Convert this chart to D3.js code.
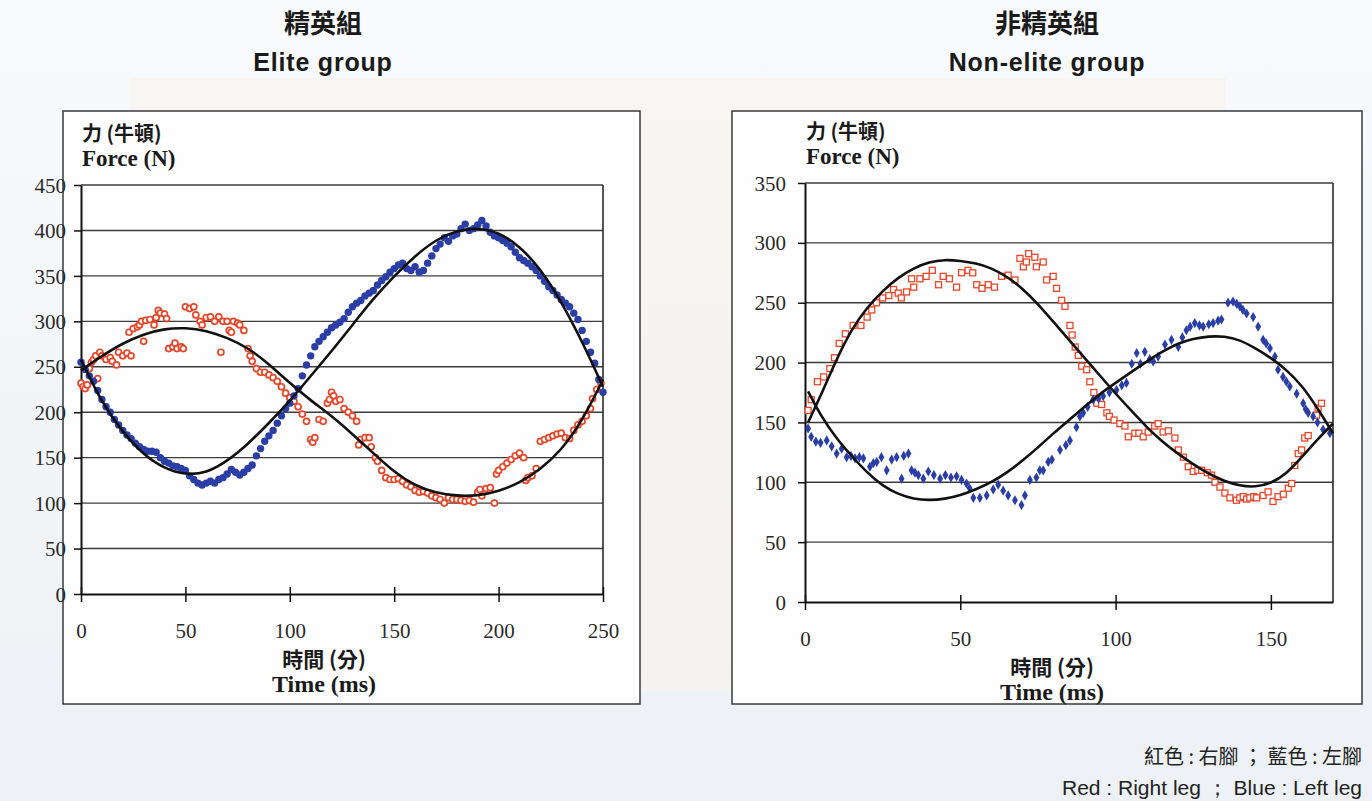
<!DOCTYPE html>
<html lang="zh-Hant">
<head>
  <meta charset="UTF-8" />
  <script src="https://d3js.org/d3.v7.min.js"></script>
  <title>Elite / Non-elite force curves</title>
  <style>
    body { margin: 0; background: #f2f5f8; }
    svg { display: block; }
  </style>
</head>
<body>
  <svg width="1372" height="801"></svg>

  <script>
    // [time (ms), force (N)]
    // elite group, red = right leg
    const eliteRed = [
      [0,232],[1,228],[2,226],[3,230],[4,248],[5,255],[6,258],[7,262],[8,237],[9,266],[10,262],
      [12,258],[14,260],[15,256],[17,252],[18,266],[20,262],[22,265],[23,288],[24,262],[25,292],
      [27,294],[28,296],[29,300],[30,278],[31,301],[33,302],[35,296],[36,304],[37,312],[38,309],
      [40,308],[41,303],[42,270],[44,272],[45,276],[46,270],[48,272],[49,270],[50,316],[52,314],
      [54,316],[55,307],[57,300],[58,296],[60,304],[62,305],[64,300],[66,305],[67,266],[68,300],
      [70,300],[71,290],[72,288],[73,300],[75,298],[76,296],[78,290],[80,270],[81,262],[82,256],
      [84,248],[86,244],[88,244],[90,241],[92,238],[94,234],[96,228],[98,221],[100,216],[102,212],
      [104,206],[106,198],[108,190],[110,170],[111,167],[112,172],[114,192],[116,190],[118,210],
      [119,214],[120,222],[121,218],[122,212],[124,214],[126,204],[128,200],[130,196],[132,190],
      [133,164],[134,170],[136,172],[138,172],[139,162],[141,150],[142,146],[144,136],[146,128],
      [148,126],[150,126],[152,127],[154,124],[156,120],[158,118],[160,114],[162,112],[164,113],
      [166,111],[168,108],[170,106],[172,104],[174,100],[176,106],[178,104],[180,104],[182,103],
      [184,102],[186,103],[188,101],[190,112],[191,115],[192,108],[194,116],[196,117],[198,100],
      [199,132],[200,136],[202,140],[204,144],[206,148],[208,152],[210,155],[212,150],[213,125],
      [214,128],[216,130],[218,138],[220,168],[222,170],[224,172],[226,174],[228,176],[230,177],
      [232,172],[234,171],[236,180],[238,186],[240,190],[242,196],[244,204],[245,215],[247,225],
      [249,232]
    ];

    // elite group, blue = left leg
    const eliteBlue = [
      [0,255],[2,247],[4,240],[6,234],[8,224],[10,214],[12,206],[14,200],[16,192],[18,186],
      [20,180],[22,175],[24,171],[26,166],[28,162],[30,159],[32,157],[34,157],[36,156],[38,150],
      [40,146],[42,144],[44,141],[46,140],[48,138],[50,136],[52,130],[54,126],[56,122],[58,120],
      [60,122],[62,124],[64,122],[66,126],[68,128],[70,132],[72,137],[74,134],[76,131],[78,134],
      [80,138],[82,142],[84,152],[86,160],[88,168],[90,174],[92,180],[94,188],[96,196],[98,204],
      [100,210],[102,218],[104,226],[106,240],[108,252],[110,262],[112,272],[114,278],[116,283],
      [118,288],[120,293],[122,296],[124,299],[126,303],[128,310],[130,316],[132,320],[134,323],
      [136,328],[138,331],[140,334],[142,340],[144,345],[146,349],[148,354],[150,358],[152,362],
      [154,364],[156,358],[158,356],[160,360],[162,354],[164,356],[166,364],[168,372],[170,380],
      [172,385],[174,392],[176,388],[178,394],[180,396],[182,402],[184,407],[186,400],[188,402],
      [190,406],[192,411],[194,405],[196,398],[198,394],[200,392],[202,389],[204,386],[206,382],
      [208,376],[210,370],[212,367],[214,364],[216,360],[218,356],[220,350],[222,344],[224,338],
      [226,334],[228,329],[230,324],[232,320],[234,316],[236,309],[238,302],[240,290],[242,278],
      [244,266],[246,254],[248,236],[250,222]
    ];

    // trend lines (black) of the elite group
    const eliteRedFit = [
      [0,246],[10,262],[20,276],[30,286],[40,292],[50,293],[60,290],[70,282],[80,271],[90,253],
      [100,232],[110,213],[120,196],[130,176],[140,155],[150,134],[160,119],[170,111],[180,108],
      [190,108],[200,113],[210,122],[220,137],[230,158],[240,190],[250,236]
    ];
    const eliteBlueFit = [
      [0,258],[10,210],[20,178],[30,153],[40,138],[50,131],[60,133],[70,146],[80,165],[90,188],
      [100,212],[110,240],[120,267],[130,296],[140,325],[150,350],[160,372],[170,390],[180,400],
      [190,403],[200,398],[210,383],[220,358],[230,322],[240,278],[250,228]
    ];

    // non-elite group, red = right leg
    const nonEliteRed = [
      [1,160],[2,169],[4,184],[6,188],[8,195],[9.5,204],[11,216],[13,224],[15.5,231],[18,231],
      [20,238],[21.5,244],[23,250],[25,254],[27,256],[28.5,261],[30,258],[31,254],[32.7,259],
      [34.3,270],[35,263],[37,270],[39,272],[41,277],[43,265],[44.5,272],[46.5,270],[48.8,263],
      [50.4,275],[52.5,277],[54,275],[55.3,265],[57,262],[59,265],[61,263],[63.3,272],[65.4,273],
      [67.6,269],[69.2,287],[70.3,280],[71.3,284],[72,291],[74,288],[74.5,280],[76.7,284],
      [77.8,269],[79.9,272],[81,262],[82.6,252],[83.7,247],[85.3,231],[86,223],[87,213],[88,206],
      [89.1,197],[90.7,194],[91.7,184],[93,175],[94,166],[95.5,165],[97.2,158],[98,155],
      [99.5,152],[101.4,149],[103,147],[104.1,138],[106.2,141],[107.5,141],[108.9,138],
      [110.5,142],[112.6,147],[113.7,149],[115.3,142],[117,143],[119.1,137],[120.2,127],
      [121.8,121],[123.4,113],[125,109],[126.5,110],[127.7,110],[129.5,108],[130.9,106],[132,100],
      [133.6,96],[135.2,91],[136.8,87],[138.9,85],[140,87],[141.1,88],[142.2,86],[143.2,87],
      [144.5,88],[145.4,87],[147.5,89],[149.1,92],[150.7,84],[152.3,88],[154,90],[155.6,95],
      [156.7,99],[157.7,114],[158.8,124],[159.9,127],[160.9,137],[162,139],[164.7,156],
      [165.2,162],[166.3,166]
    ];

    // non-elite group, blue = left leg
    const nonEliteBlue = [
      [1,145],[2,138],[3.5,134],[5,133],[7,135],[8.6,130],[10.2,124],[11.8,128],[13.4,121],
      [14.8,122],[16.1,120],[17.5,121],[18.8,120],[20.9,113],[22,116],[23.1,117],[24.6,121],
      [26.3,110],[27.9,119],[29.5,121],[31.1,103],[31.8,122],[33.3,124],[34.3,110],[35.4,108],
      [36.5,106],[38.1,103],[39.7,109],[41.5,106],[43.5,103],[45.2,106],[47,104],[48.8,105],
      [50.4,102],[52,99],[53,95],[54.2,87],[56.3,87],[58.5,89],[60.6,94],[62.2,98],[63.8,93],
      [65.4,89],[67.6,85],[69.7,81],[70.8,89],[72.4,102],[74.5,104],[75.6,110],[76.7,110],
      [78.3,117],[79.5,119],[82.1,127],[84,131],[85.3,135],[87.4,146],[88.5,155],[89.6,158],
      [91,163],[92.8,169],[94.5,170],[96,172],[98,175],[100.3,177],[102,181],[103.5,183],
      [105.2,199],[106.8,208],[108,199],[109.4,209],[111,203],[112.1,201],[113.7,205],
      [115.9,215],[118,219],[120.2,213],[121.5,221],[122.8,227],[124,230],[125.5,233],[127,231],
      [128.2,230],[130,232],[131.4,233],[133,235],[134.1,236],[136.2,250],[137.8,251],[139,249],
      [140,247],[141,244],[142.2,241],[144.3,238],[145.9,230],[147.5,219],[148.5,216],
      [149.7,212],[151.3,205],[152.3,194],[153.9,188],[155,184],[156.1,180],[158.3,174],
      [160.4,166],[161.2,161],[162,158],[163.6,155],[165,150],[166.8,144],[169,141]
    ];

    const nonEliteRedFit = [
      [1,150],[5,172],[10,202],[15,228],[20,246],[25,260],[30,271],[35,279],[40,284],[45,286],
      [50,285],[55,283],[60,279],[65,272],[70,262],[75,249],[80,234],[85,219],[90,204],[95,189],
      [100,174],[105,160],[110,146],[115,134],[120,124],[125,115],[130,107],[135,101],[140,97],
      [145,96],[150,99],[155,107],[160,121],[165,136],[170,149]
    ];
    const nonEliteBlueFit = [
      [1,176],[5,156],[10,137],[15,122],[20,108],[25,97],[30,90],[35,86],[40,85],[45,86],
      [50,89],[55,94],[60,100],[65,108],[70,118],[75,129],[80,141],[85,152],[90,163],[95,174],
      [100,183],[105,192],[110,201],[115,209],[120,216],[125,220],[130,222],[135,222],[140,219],
      [145,212],[150,204],[155,194],[160,181],[165,162],[170,141]
    ];

    const eliteXTicks = [0, 50, 100, 150, 200, 250];
    const eliteYTicks = [0, 50, 100, 150, 200, 250, 300, 350, 400, 450];
    const nonEliteXTicks = [0, 50, 100, 150];
    const nonEliteYTicks = [0, 50, 100, 150, 200, 250, 300, 350];

    const RED = "#e6472a";
    const BLUE = "#2a3ea6";
    const SERIF = "'Liberation Serif', 'Times New Roman', serif";
    const SANS = "'Liberation Sans', Arial, sans-serif";
    const CJK = "'Noto Sans CJK TC', 'Noto Sans CJK SC', sans-serif";

    const svg = d3.select("svg");

    // page background (scanned page look)
    const defs = svg.append("defs");
    const grad = defs.append("linearGradient")
      .attr("id", "page").attr("x1", 0).attr("y1", 0).attr("x2", 0).attr("y2", 1);
    grad.append("stop").attr("offset", "0%").attr("stop-color", "#f8fafc");
    grad.append("stop").attr("offset", "100%").attr("stop-color", "#edf1f5");
    svg.append("rect").attr("width", 1372).attr("height", 801).attr("fill", "url(#page)");
    svg.append("rect")
      .attr("x", 130).attr("y", 78).attr("width", 1096).attr("height", 612)
      .attr("fill", "#f8f1ec").attr("opacity", 0.6);

    function drawPanel(p) {
      const g = svg.append("g");

      g.append("rect")
        .attr("x", p.box[0]).attr("y", p.box[1])
        .attr("width", p.box[2]).attr("height", p.box[3])
        .attr("fill", "#fefefe").attr("stroke", "#3a3a3a").attr("stroke-width", 1.5);

      const x = d3.scaleLinear().domain(p.xDomain).range([p.left, p.right]);
      const y = d3.scaleLinear().domain(p.yDomain).range([p.bottom, p.top]);

      // horizontal gridlines + plot frame
      g.append("g").selectAll("line")
        .data(p.yTicks.filter(d => d > 0))
        .join("line")
        .attr("x1", p.left).attr("x2", p.right)
        .attr("y1", d => y(d)).attr("y2", d => y(d))
        .attr("stroke", "#3c3c3c").attr("stroke-width", 1.4);
      g.append("line")
        .attr("x1", p.right).attr("x2", p.right)
        .attr("y1", p.top).attr("y2", p.bottom)
        .attr("stroke", "#2a2a2a").attr("stroke-width", 1.6);

      // axes
      g.append("g")
        .attr("transform", `translate(0,${p.bottom})`)
        .call(d3.axisBottom(x).tickValues(p.xTicks).tickSize(7).tickSizeOuter(0))
        .call(a => a.select(".domain").attr("stroke", "#111").attr("stroke-width", 2))
        .call(a => a.selectAll(".tick line").attr("y1", -7).attr("y2", 8)
          .attr("stroke", "#111").attr("stroke-width", 1.5))
        .call(a => a.selectAll(".tick text").attr("y", 44).attr("dy", 0)
          .attr("font-family", SERIF).attr("font-size", 21).attr("fill", "#2a2a2a"));

      g.append("g")
        .attr("transform", `translate(${p.left},0)`)
        .call(d3.axisLeft(y).tickValues(p.yTicks).tickSize(7).tickSizeOuter(0))
        .call(a => a.select(".domain").attr("stroke", "#111").attr("stroke-width", 2))
        .call(a => a.selectAll(".tick line").attr("stroke", "#111").attr("stroke-width", 1.5))
        .call(a => a.selectAll(".tick text").attr("x", -p.labelGap).attr("dy", "0.34em")
          .attr("font-family", SERIF).attr("font-size", 21).attr("fill", "#2a2a2a"));

      // scatter: red = right leg, blue = left leg
      const dots = g.append("g");
      if (p.squares) {
        dots.selectAll("rect.r").data(p.red).join("rect")
          .attr("x", d => x(d[0]) - 3).attr("y", d => y(d[1]) - 3)
          .attr("width", 6).attr("height", 6)
          .attr("fill", "#fff").attr("stroke", RED).attr("stroke-width", 1.3);
        dots.selectAll("path.b").data(p.blue).join("path")
          .attr("transform", d => `translate(${x(d[0])},${y(d[1])})`)
          .attr("d", d3.symbol(d3.symbolDiamond, 30))
          .attr("fill", BLUE);
      } else {
        dots.selectAll("circle.r").data(p.red).join("circle")
          .attr("cx", d => x(d[0])).attr("cy", d => y(d[1])).attr("r", 3)
          .attr("fill", "#fff").attr("stroke", RED).attr("stroke-width", 1.7);
        dots.selectAll("circle.b").data(p.blue).join("circle")
          .attr("cx", d => x(d[0])).attr("cy", d => y(d[1])).attr("r", 3.7)
          .attr("fill", BLUE);
      }

      // trend lines
      const line = d3.line()
        .x(d => x(d[0])).y(d => y(d[1]))
        .curve(d3.curveBasis);
      g.selectAll("path.fit").data([p.redFit, p.blueFit]).join("path")
        .attr("class", "fit")
        .attr("d", line)
        .attr("fill", "none").attr("stroke", "#111").attr("stroke-width", 2.6);

      // axis titles
      g.append("text").attr("x", p.left + 1).attr("y", p.top - 44)
        .attr("font-family", CJK).attr("font-weight", "bold")
        .attr("font-size", 20).attr("fill", "#1a1a1a").text("力 (牛頓)");
      g.append("text").attr("x", p.left + 1).attr("y", p.top - 19)
        .attr("font-family", SERIF).attr("font-weight", "bold")
        .attr("font-size", 23).attr("fill", "#1a1a1a").text("Force (N)");

      g.append("text").attr("x", p.xTitle).attr("y", p.bottom + 73)
        .attr("text-anchor", "middle").attr("font-family", CJK).attr("font-weight", "bold")
        .attr("font-size", 21).attr("fill", "#1a1a1a").text("時間 (分)");
      g.append("text").attr("x", p.xTitle).attr("y", p.bottom + 98)
        .attr("text-anchor", "middle").attr("font-family", SERIF).attr("font-weight", "bold")
        .attr("font-size", 24).attr("fill", "#1a1a1a").text("Time (ms)");

      // panel heading
      g.append("text").attr("x", p.head).attr("y", 33)
        .attr("text-anchor", "middle").attr("font-family", CJK).attr("font-weight", "bold")
        .attr("font-size", 26).attr("fill", "#1a1a1a").text(p.titleZh);
      g.append("text").attr("x", p.head).attr("y", 71)
        .attr("text-anchor", "middle").attr("font-family", SANS).attr("font-weight", "bold")
        .attr("font-size", 25).attr("letter-spacing", 0.8).attr("fill", "#1a1a1a").text(p.titleEn);
    }

    drawPanel({
      box: [63, 111, 577, 593],
      left: 81, right: 603, top: 185, bottom: 594,
      xDomain: [0, 250], yDomain: [0, 450],
      xTicks: eliteXTicks, yTicks: eliteYTicks, labelGap: 15,
      red: eliteRed, blue: eliteBlue, redFit: eliteRedFit, blueFit: eliteBlueFit,
      squares: false, xTitle: 324, head: 323,
      titleZh: "精英組", titleEn: "Elite group"
    });

    drawPanel({
      box: [732, 111, 630, 593],
      left: 805, right: 1333, top: 183, bottom: 602,
      xDomain: [0, 170], yDomain: [0, 350],
      xTicks: nonEliteXTicks, yTicks: nonEliteYTicks, labelGap: 19,
      red: nonEliteRed, blue: nonEliteBlue, redFit: nonEliteRedFit, blueFit: nonEliteBlueFit,
      squares: true, xTitle: 1052, head: 1047,
      titleZh: "非精英組", titleEn: "Non-elite group"
    });

    // colour key, bottom right
    svg.append("text").attr("x", 1362).attr("y", 764)
      .attr("text-anchor", "end").attr("font-family", CJK).attr("font-size", 20)
      .attr("fill", "#222").text("紅色\u00a0:\u00a0右腳\u00a0；\u00a0藍色\u00a0:\u00a0左腳");
    svg.append("text").attr("x", 1362).attr("y", 795)
      .attr("text-anchor", "end").attr("font-family", SANS).attr("font-size", 21)
      .attr("fill", "#222").text("Red\u00a0:\u00a0Right leg\u00a0；\u00a0Blue\u00a0:\u00a0Left leg");
  </script>
</body>
</html>
